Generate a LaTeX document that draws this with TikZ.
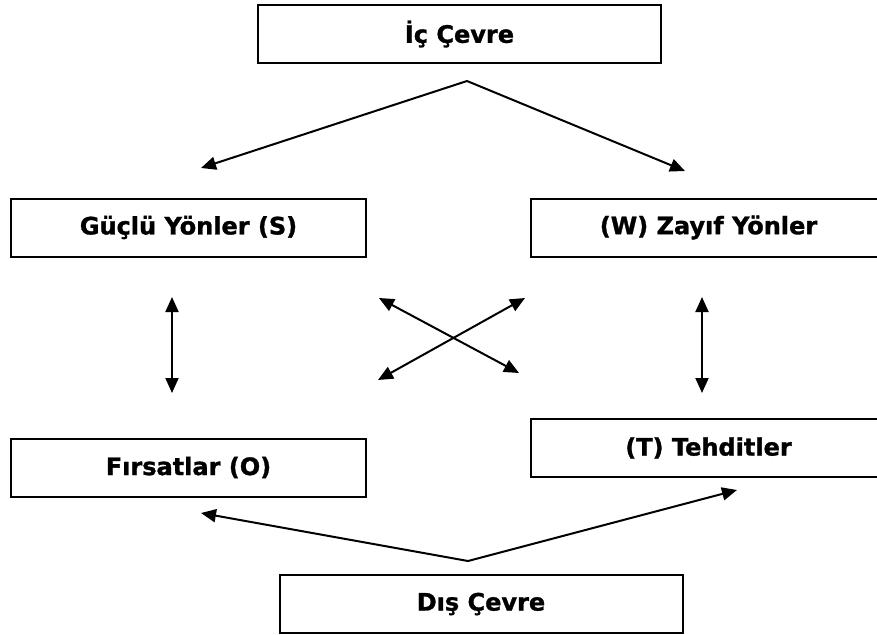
\documentclass[tikz,border=0pt]{standalone}
\usepackage{fontspec}
\setmainfont{DejaVu Sans}[BoldFeatures={FakeBold=1.2}]
\usetikzlibrary{arrows.meta}
\begin{document}
\begin{tikzpicture}[x=1pt,y=-1pt,
  box/.style={draw, line width=2pt, minimum width=355pt, minimum height=58pt,
    inner sep=0pt, font=\fontsize{24}{28}\selectfont\bfseries},
  wide/.style={minimum width=403pt},
  conn/.style={line width=2pt, -{Triangle[length=15pt,width=13pt]}},
  twoway/.style={line width=2pt, {Triangle[length=15pt,width=13pt]}-{Triangle[length=15pt,width=13pt]}}]
\useasboundingbox (0,0) rectangle (877,634);

\node[box,wide] (ic)  at (459.5,34)  {İç Çevre};
\node[box] (s)   at (188.5,227.5) {Güçlü Yönler (S)};
\node[box] (w)   at (708.5,227.5) {(W) Zayıf Yönler};
\node[box] (o)   at (188.5,467.5) {Fırsatlar (O)};
\node[box] (t)   at (708.5,448)   {(T) Tehditler};
\node[box,wide] (dis) at (481,604)   {Dış Çevre};

\coordinate (ica) at (467,81);
\coordinate (icl) at (201,168);
\coordinate (icr) at (685,171);
\coordinate (dsa) at (468,561);
\coordinate (dsl) at (201,513);
\coordinate (dsr) at (737,490);
\coordinate (sv1) at (172,297);
\coordinate (sv2) at (172,393);
\coordinate (wv1) at (702,297);
\coordinate (wv2) at (702,393);
\coordinate (x1) at (379,298);
\coordinate (x2) at (519,373);
\coordinate (x3) at (378,380);
\coordinate (x4) at (525,298);

\draw[conn] (ica) -- (icl);
\draw[conn] (ica) -- (icr);
\draw[conn] (dsa) -- (dsl);
\draw[conn] (dsa) -- (dsr);
\draw[twoway] (sv1) -- (sv2);
\draw[twoway] (wv1) -- (wv2);
\draw[twoway] (x1) -- (x2);
\draw[twoway] (x3) -- (x4);
\end{tikzpicture}
\end{document}
